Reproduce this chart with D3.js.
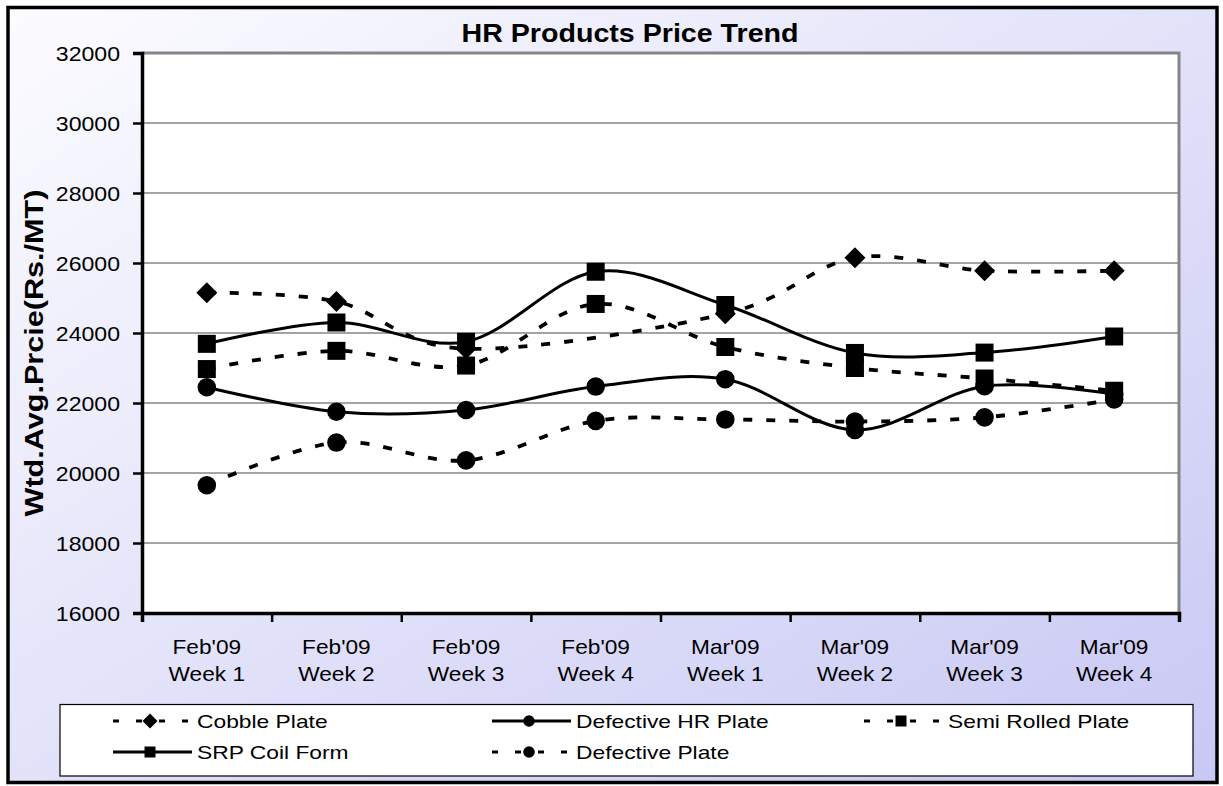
<!DOCTYPE html>
<html><head><meta charset="utf-8">
<script src="https://cdn.jsdelivr.net/npm/d3@7"></script>
<style>
body{margin:0;background:#fff}
svg{display:block;font-family:"Liberation Sans",Arial,Helvetica,sans-serif}
</style>
</head><body>
<svg id="c" width="1223" height="786"></svg>
<script>
// ---- data ----
const categories = ["Feb'09 Week 1","Feb'09 Week 2","Feb'09 Week 3","Feb'09 Week 4",
                    "Mar'09 Week 1","Mar'09 Week 2","Mar'09 Week 3","Mar'09 Week 4"];
const cobblePlate      = [25150, 24900, 23550, null,  24550, 26150, 25780, 25780];
const defectiveHRPlate = [22450, 21750, 21800, 22470, 22680, 21230, 22480, 22250];
const semiRolledPlate  = [22970, 23490, 23070, 24830, 23600, 23000, 22700, 22350];
const srpCoilForm      = [23690, 24300, 23750, 25750, 24800, 23430, 23440, 23900];
const defectivePlate   = [19650, 20870, 20360, 21490, 21530, 21470, 21590, 22100];
const seriesNames = ["Cobble Plate","Defective HR Plate","Semi Rolled Plate","SRP Coil Form","Defective Plate"];
const seriesValues = [cobblePlate, defectiveHRPlate, semiRolledPlate, srpCoilForm, defectivePlate];
const seriesMarkers = ["diamond","circle","square","square","circle"];
const seriesDashed = [true, false, true, false, true];
const yTicks = [16000,18000,20000,22000,24000,26000,28000,30000,32000];
const chartTitle = "HR Products Price Trend";
const yTitle = "Wtd.Avg.Prcie(Rs./MT)";

// ---- helpers ----
function stretch(sel, k){
  sel.each(function(){
    const w = this.getComputedTextLength();
    this.setAttribute('textLength', (w*k).toFixed(1));
    this.setAttribute('lengthAdjust','spacingAndGlyphs');
  });
}
function markerPath(type, s){
  if(type==='diamond') return `M0,${-s}L${s},0L0,${s}L${-s},0Z`;
  if(type==='square') return `M${-s},${-s}H${s}V${s}H${-s}Z`;
  const p = d3.path(); p.arc(0,0,s,0,2*Math.PI); p.closePath(); return p.toString();
}
const markerSize = {diamond:10.5, square:9, circle:9.3};
const legendMarkerSize = {diamond:7.5, square:5.5, circle:5.8};

const svg = d3.select('#c');
const defs = svg.append('defs');
const grad = defs.append('linearGradient').attr('id','bg')
  .attr('x1','0').attr('y1','0').attr('x2','1').attr('y2','1');
grad.append('stop').attr('offset','0').attr('stop-color','#fcfcff');
grad.append('stop').attr('offset','1').attr('stop-color','#c8c8f4');

// outer chart area
svg.append('rect').attr('x',8).attr('y',7.5).attr('width',1209).attr('height',775)
  .attr('fill','url(#bg)').attr('stroke','#000').attr('stroke-width',3.5);

const m = {l:142, r:1179, t:53, b:613};
const x = d3.scaleBand().domain(categories).range([m.l, m.r]).padding(0);
const xb = d3.scaleLinear().domain([0, categories.length]).range([m.l, m.r]);
const y = d3.scaleLinear().domain([16000, 32000]).range([m.b, m.t]);
const cx = c => x(c) + x.bandwidth()/2;

// plot area
svg.append('rect').attr('x',m.l).attr('y',m.t).attr('width',m.r-m.l).attr('height',m.b-m.t)
  .attr('fill','#fff');

// gridlines
svg.append('g').selectAll('line').data(yTicks.filter(t=>t>16000 && t<32000)).join('line')
  .attr('x1',m.l).attr('x2',m.r).attr('y1',d=>y(d)).attr('y2',d=>y(d))
  .attr('stroke','#4a4a4a').attr('stroke-width',1.2);

// plot border (top & right, grey)
svg.append('path')
  .attr('d',`M${m.l},${y(32000)}H${m.r}V${m.b}`)
  .attr('fill','none').attr('stroke','#858585').attr('stroke-width',3);

// y axis
const gy = svg.append('g').attr('transform',`translate(${m.l},0)`)
  .call(d3.axisLeft(y).tickValues(yTicks).tickSize(9).tickPadding(13).tickFormat(d3.format('d')));
gy.select('.domain').attr('stroke','#000').attr('stroke-width',3.5);
gy.selectAll('.tick line').attr('stroke','#000').attr('stroke-width',2.5);
gy.selectAll('.tick text').attr('font-size',21).attr('fill','#000')
  .attr('font-family','"Liberation Sans",Arial,sans-serif').attr('dy','0.36em');
stretch(gy.selectAll('.tick text'), 1.1);

// x axis ticks (between categories)
const gx = svg.append('g').attr('transform',`translate(0,${m.b})`)
  .call(d3.axisBottom(xb).ticks(categories.length).tickSize(9).tickFormat(''));
gx.select('.domain').attr('stroke','#000').attr('stroke-width',3.5);
gx.selectAll('.tick line').attr('stroke','#000').attr('stroke-width',2.5);

// x labels
const xl = svg.append('g');
categories.forEach(c=>{
  const i = c.indexOf(' ');
  const l1 = c.slice(0,i), l2 = c.slice(i+1);
  xl.append('text').attr('x',cx(c)).attr('y',654).attr('text-anchor','middle')
    .attr('font-size',21).text(l1);
  xl.append('text').attr('x',cx(c)).attr('y',681).attr('text-anchor','middle')
    .attr('font-size',21).text(l2);
});
stretch(xl.selectAll('text'), 1.08);

// title
svg.append('text').attr('x',630).attr('y',41.5).attr('text-anchor','middle')
  .attr('font-size',25).attr('font-weight','bold').text(chartTitle)
  .attr('textLength',337).attr('lengthAdjust','spacingAndGlyphs');

// y title
svg.append('text').attr('transform','translate(43,353) rotate(-90)').attr('text-anchor','middle')
  .attr('font-size',25).attr('font-weight','bold').text(yTitle)
  .attr('textLength',327).attr('lengthAdjust','spacingAndGlyphs');

// series
const line = d3.line().x(d=>cx(d.c)).y(d=>y(d.v)).curve(d3.curveCatmullRom.alpha(0));
const gs = svg.append('g');
seriesValues.forEach((vals, si)=>{
  const pts = categories.map((c,i)=>({c, v: vals[i]})).filter(d=>d.v!=null);
  const g = gs.append('g');
  g.append('path').attr('d', line(pts)).attr('fill','none').attr('stroke','#000')
    .attr('stroke-width', seriesDashed[si] ? 3.8 : 3)
    .attr('stroke-dasharray', seriesDashed[si] ? '9,14' : null);
  g.selectAll('path.mk').data(pts).join('path').attr('class','mk')
    .attr('transform',d=>`translate(${cx(d.c)},${y(d.v)})`)
    .attr('d', markerPath(seriesMarkers[si], markerSize[seriesMarkers[si]]))
    .attr('fill','#000');
});

// legend
svg.append('rect').attr('x',60).attr('y',704.5).attr('width',1133).attr('height',71.5)
  .attr('fill','#fff').attr('stroke','#000').attr('stroke-width',1.2);
const legendPos = [[113,721],[492,721],[864,721],[113,752],[492,752]];
const lg = svg.append('g');
seriesNames.forEach((name, si)=>{
  const [lx, ly] = legendPos[si];
  const g = lg.append('g').attr('transform',`translate(${lx},${ly})`);
  g.append('line').attr('x1',0).attr('x2',79).attr('y1',0).attr('y2',0)
    .attr('stroke','#000').attr('stroke-width',3)
    .attr('stroke-dasharray', seriesDashed[si] ? '6,17' : null);
  g.append('path').attr('transform','translate(37,0)')
    .attr('d', markerPath(seriesMarkers[si], legendMarkerSize[seriesMarkers[si]])).attr('fill','#000');
  g.append('text').attr('class','lt').attr('x',84).attr('y',0).attr('dy','0.36em')
    .attr('font-size',19).text(name);
});
stretch(lg.selectAll('text.lt'), 1.2);
</script>
</body></html>
